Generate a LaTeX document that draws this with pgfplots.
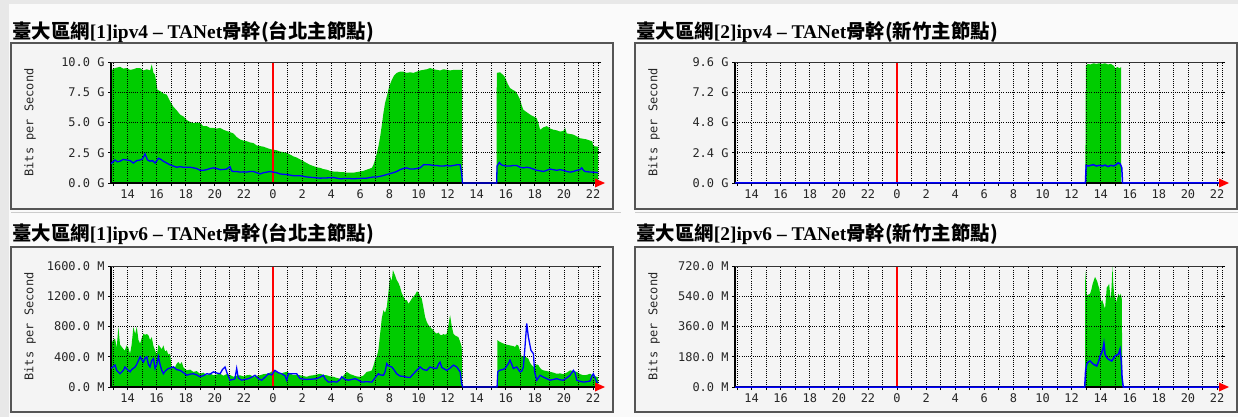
\documentclass[border=0pt]{standalone}
\usepackage{fontspec}
\setmainfont{Liberation Serif}
\newfontfamily\mono{DejaVu Sans Mono}
\newfontfamily\cjk{Noto Sans CJK TC}
\usepackage{pgfplots}
\pgfplotsset{compat=1.18}
\definecolor{mgreen}{HTML}{00CC00}
\definecolor{mblue}{HTML}{0000FF}
\definecolor{mred}{HTML}{FF0000}
\definecolor{pane}{HTML}{F4F4F4}
\definecolor{frame}{HTML}{555555}
\pgfplotsset{
 mbase/.style={scale only axis, width=487bp, height=121bp, anchor=south west,
  xmin=-11.14, xmax=22.34, ymin=0, clip=false},
 mrtg/.style={mbase,
  xtick={-11,...,22},
  xticklabels={{},14,{},16,{},18,{},20,{},22,{},0,{},2,{},4,{},6,{},8,{},10,{},12,{},14,{},16,{},18,{},20,{},22},
  grid=major, grid style={black, line width=0.7bp, dash pattern=on 0.9bp off 1.3bp},
  axis on top, axis line style={draw=none},
  tick align=outside, major tick length=3bp, tick style={black, line width=0.8bp},
  xtick pos=lower, ytick pos=both,
  ticklabel style={font=\mono\fontsize{12}{12}\selectfont, text=black!85},
  /pgf/number format/assume math mode=true},
 mover/.style={mbase, hide axis}
}
\newcommand\frameaxis{%
  \draw[black, line width=1.3bp] (rel axis cs:0,1) -- (rel axis cs:0,0) -- (rel axis cs:1,0);
  \draw[black!80, line width=0.8bp] (rel axis cs:0,1) -- (rel axis cs:1,1);
  \draw[black, line width=0.7bp, dash pattern=on 0.9bp off 1.3bp] (rel axis cs:1,0) -- (rel axis cs:1,1);}
\newcommand\redarrow{\fill[mred] (rel axis cs:1,0) ++(-3bp,-4.5bp) -- ++(10bp,4.5bp) -- ++(-10bp,4.5bp) -- cycle;}
\newcommand\ttl[3]{\node[anchor=base west, inner sep=0, font=\bfseries\fontsize{19.5}{19.5}\selectfont] at (#1,#2) {#3};}
\begin{document}
\begin{tikzpicture}[x=1bp,y=1bp]
\useasboundingbox (0,0) rectangle (1238,417);
\fill[white!98!black] (0,0) rectangle (1238,417);
\fill[black!9] (0,0) rectangle (9,417);
\fill[black!9] (0,413) rectangle (1238,417);
% panel frames
\foreach \px in {11,635}{
  \foreach \py/\qy in {208/374, 5/170}{
    \filldraw[fill=pane, draw=frame, line width=2bp] (\px,\py) rectangle (\px+602,\qy);
  }
  \draw[black!20, line width=1bp] (\px,205) -- (\px+610,205);
}
% titles
\ttl{12}{379}{{\cjk 臺大區網}[1]ipv4 – TANet{\cjk 骨幹(台北主節點)}}
\ttl{636}{379}{{\cjk 臺大區網}[2]ipv4 – TANet{\cjk 骨幹(新竹主節點)}}
\ttl{12}{177}{{\cjk 臺大區網}[1]ipv6 – TANet{\cjk 骨幹(台北主節點)}}
\ttl{636}{177}{{\cjk 臺大區網}[2]ipv6 – TANet{\cjk 骨幹(新竹主節點)}}
% y labels
\foreach \lx/\ly in {30/294.5, 654/294.5, 30/90.5, 654/90.5}{
  \node[rotate=90, font=\mono\fontsize{12}{12}\selectfont, text=black!85] at (\lx,\ly) {Bits per Second};
}
% ---------------- Panel 1 ----------------
\begin{axis}[mrtg, at={(111bp,234bp)}, ymax=10, ytick={0,2.5,5,7.5,10},
  yticklabels={0.0 G,2.5 G,5.0 G,7.5 G,10.0 G}]
\addplot[fill=mgreen, draw=none] coordinates {
(-11.14,9.3) (-10.86,9.5) (-10.52,9.6) (-10.29,9.45) (-10.06,9.5) (-9.83,9.35) (-9.60,9.4) (-9.37,9.5) (-9.14,9.5) (-8.91,9.3) (-8.68,9.4) (-8.45,9.3) (-8.34,9.8) (-8.22,9.1) (-8.11,8.95) (-7.95,7.7) (-7.77,7.6) (-7.54,7.4) (-7.31,7.3) (-7.08,6.75) (-6.85,6.3) (-6.62,6.0) (-6.39,5.65) (-6.16,5.5) (-5.93,5.2) (-5.70,5.05) (-5.48,4.95) (-5.25,5.0) (-5.02,4.95) (-4.79,4.7) (-4.56,4.7) (-4.33,4.55) (-4.10,4.55) (-3.87,4.5) (-3.64,4.55) (-3.41,4.4) (-3.19,4.3) (-2.96,4.2) (-2.73,4.1) (-2.50,3.8) (-2.27,3.6) (-2.04,3.5) (-1.81,3.45) (-1.58,3.35) (-1.35,3.3) (-1.12,3.1) (-0.89,3.05) (-0.66,3.0) (-0.43,2.9) (-0.20,2.8) (0.02,2.75) (0.25,2.7) (0.48,2.6) (0.71,2.55) (0.94,2.5) (1.17,2.35) (1.40,2.2) (1.63,2.1) (1.86,1.95) (2.09,1.8) (2.31,1.65) (2.54,1.5) (2.77,1.4) (3.00,1.3) (3.23,1.25) (3.46,1.15) (3.69,1.1) (3.92,1.0) (4.15,0.95) (4.38,0.95) (4.61,0.9) (4.84,0.9) (5.07,0.85) (5.30,0.85) (5.52,0.85) (5.75,0.9) (5.98,0.95) (6.21,1.0) (6.44,1.1) (6.67,1.2) (6.79,1.25) (6.90,1.5) (7.01,1.9) (7.12,2.4) (7.24,3.0) (7.36,3.8) (7.47,4.7) (7.59,5.8) (7.70,6.6) (7.82,7.15) (7.99,8.0) (8.16,8.5) (8.33,8.9) (8.50,9.1) (8.73,9.2) (8.96,9.2) (9.19,9.1) (9.42,9.15) (9.65,9.1) (9.88,9.2) (10.11,9.3) (10.34,9.35) (10.57,9.4) (10.80,9.5) (11.03,9.4) (11.26,9.35) (11.49,9.3) (11.72,9.4) (11.95,9.35) (12.18,9.3) (12.41,9.35) (12.64,9.35) (12.86,9.35) (13.00,9.35) (13.01,0) (15.37,0) (15.38,9.1) (15.61,9.15) (15.84,8.9) (15.96,8.7) (16.13,8.2) (16.29,7.85) (16.47,7.7) (16.64,7.6) (16.82,7.3) (16.98,6.9) (17.10,6.4) (17.21,6.05) (17.44,5.85) (17.67,5.65) (17.90,5.5) (18.13,5.35) (18.25,4.9) (18.36,4.4) (18.59,4.6) (18.82,4.7) (19.05,4.5) (19.28,4.4) (19.50,4.35) (19.73,4.25) (19.96,4.3) (20.08,4.55) (20.19,4.1) (20.42,4.05) (20.65,4.0) (20.88,3.85) (21.11,3.7) (21.34,3.65) (21.57,3.6) (21.80,3.5) (21.94,3.45) (22.02,3.05) (22.34,3.0)
} \closedcycle;
\end{axis}
\begin{axis}[mover, at={(111bp,234bp)}, ymax=10]
\addplot[draw=mred, line width=1.5bp] coordinates {(0,0) (0,10)};
\frameaxis
\addplot[mblue, line width=1.3bp] coordinates {
(-11.14,1.6) (-11.0,1.75) (-10.86,1.9) (-10.7,1.75) (-10.52,1.8) (-10.3,1.95) (-10.06,1.9) (-9.83,1.85) (-9.60,1.65) (-9.37,1.85) (-9.14,1.9) (-8.97,2.0) (-8.80,2.4) (-8.63,1.9) (-8.46,1.8) (-8.29,1.85) (-8.11,1.65) (-7.95,1.9) (-7.88,2.05) (-7.71,1.95) (-7.54,1.8) (-7.31,1.65) (-7.08,1.5) (-6.85,1.4) (-6.62,1.3) (-6.39,1.35) (-6.16,1.3) (-5.93,1.3) (-5.70,1.3) (-5.48,1.25) (-5.25,1.2) (-5.02,1.05) (-4.79,1.05) (-4.56,1.1) (-4.33,1.2) (-4.10,1.25) (-3.87,1.2) (-3.64,1.1) (-3.41,1.12) (-3.19,1.15) (-2.96,1.35) (-2.85,1.0) (-2.73,0.95) (-2.5,0.95) (-2.27,0.9) (-2.04,0.92) (-1.81,0.9) (-1.58,0.95) (-1.35,0.95) (-1.12,0.85) (-0.89,0.75) (-0.66,0.85) (-0.43,0.9) (-0.2,0.95) (0.02,0.9) (0.25,0.85) (0.48,0.75) (0.71,0.72) (0.94,0.7) (1.17,0.65) (1.40,0.6) (1.86,0.6) (2.09,0.55) (2.31,0.5) (2.77,0.45) (3.23,0.4) (3.69,0.42) (4.15,0.45) (4.38,0.4) (4.61,0.35) (5.07,0.38) (5.52,0.35) (5.98,0.38) (6.44,0.4) (6.90,0.5) (7.13,0.5) (7.36,0.55) (7.59,0.62) (7.82,0.7) (8.05,0.78) (8.27,0.85) (8.50,0.95) (8.73,1.1) (8.96,1.2) (9.19,1.25) (9.42,1.15) (9.65,1.15) (9.88,1.2) (10.11,1.25) (10.34,1.5) (10.57,1.5) (10.79,1.5) (11.02,1.45) (11.25,1.45) (11.48,1.4) (11.71,1.4) (11.94,1.45) (12.17,1.4) (12.40,1.45) (12.63,1.5) (12.86,1.5) (12.97,0.8) (13.02,0) (15.37,0) (15.40,1.4) (15.56,1.7) (15.70,1.5) (15.83,1.45) (16.06,1.4) (16.29,1.4) (16.52,1.45) (16.75,1.45) (16.98,1.3) (17.21,1.25) (17.44,1.3) (17.67,1.25) (17.90,1.15) (18.13,1.05) (18.36,1.0) (18.59,0.95) (18.82,1.05) (19.05,1.15) (19.28,1.1) (19.50,1.05) (19.73,1.1) (19.96,1.05) (20.19,0.95) (20.42,0.9) (20.65,0.95) (20.88,1.05) (21.11,1.1) (21.22,1.25) (21.34,1.05) (21.45,0.95) (21.68,0.92) (21.91,0.9) (22.14,0.88) (22.34,0.85)
};
\redarrow
\end{axis}
% ---------------- Panel 2 ----------------
\begin{axis}[mrtg, at={(735bp,234bp)}, ymax=9.6, ytick={0,2.4,4.8,7.2,9.6},
  yticklabels={0.0 G,2.4 G,4.8 G,7.2 G,9.6 G}]
\addplot[fill=mgreen, draw=none] coordinates {
(12.94,0) (12.95,1.9) (12.98,9.3) (13.1,9.45) (13.3,9.4) (13.5,9.5) (13.7,9.45) (13.9,9.5) (14.1,9.45) (14.3,9.5) (14.5,9.4) (14.7,9.45) (14.9,9.3) (15.0,9.1) (15.15,9.2) (15.3,9.1) (15.4,9.2) (15.41,0)
} \closedcycle;
\end{axis}
\begin{axis}[mover, at={(735bp,234bp)}, ymax=9.6]
\addplot[draw=mred, line width=1.5bp] coordinates {(0,0) (0,9.6)};
\frameaxis
\addplot[mblue, line width=1.5bp] coordinates {
(-11.14,0) (12.95,0) (13.0,1.4) (13.15,1.35) (13.3,1.4) (13.5,1.45) (13.7,1.35) (13.9,1.4) (14.1,1.35) (14.3,1.42) (14.5,1.3) (14.7,1.4) (14.9,1.35) (15.05,1.45) (15.2,1.6) (15.35,1.5) (15.45,1.2) (15.5,0) (22.34,0)
};
\redarrow
\end{axis}
% ---------------- Panel 3 ----------------
\begin{axis}[mrtg, at={(111bp,30bp)}, ymax=1600, ytick={0,400,800,1200,1600},
  yticklabels={0.0 M,400.0 M,800.0 M,1200.0 M,1600.0 M}]
\addplot[fill=mgreen, draw=none] coordinates {
(-11.14,560) (-11.0,620) (-10.86,640) (-10.75,520) (-10.63,795) (-10.52,560) (-10.4,530) (-10.2,480) (-10.06,550) (-9.95,520) (-9.83,440) (-9.72,560) (-9.60,795) (-9.48,700) (-9.37,795) (-9.25,620) (-9.14,575) (-9.02,650) (-8.91,705) (-8.80,690) (-8.68,700) (-8.57,685) (-8.45,620) (-8.34,660) (-8.22,540) (-8.11,485) (-7.99,420) (-7.88,560) (-7.77,530) (-7.65,500) (-7.54,550) (-7.42,470) (-7.31,485) (-7.20,430) (-7.08,440) (-6.97,245) (-6.85,280) (-6.74,260) (-6.62,310) (-6.51,330) (-6.39,300) (-6.28,330) (-6.16,260) (-6.05,240) (-5.93,220) (-5.70,230) (-5.48,200) (-5.25,210) (-5.02,175) (-4.79,190) (-4.56,155) (-4.33,180) (-4.10,155) (-3.87,165) (-3.64,175) (-3.41,150) (-3.19,170) (-2.96,160) (-2.73,135) (-2.50,150) (-2.27,155) (-2.04,140) (-1.81,155) (-1.58,160) (-1.35,135) (-1.12,150) (-0.89,155) (-0.66,170) (-0.43,175) (-0.2,190) (0.02,220) (0.25,200) (0.48,175) (0.71,190) (0.94,200) (1.17,180) (1.40,155) (1.63,160) (1.86,155) (2.09,145) (2.31,135) (2.54,150) (2.77,155) (3.00,165) (3.23,175) (3.46,160) (3.69,155) (3.92,140) (4.15,135) (4.38,120) (4.61,110) (4.84,150) (5.07,200) (5.30,170) (5.52,155) (5.75,140) (5.98,135) (6.21,150) (6.44,200) (6.67,210) (6.79,220) (6.90,280) (7.01,355) (7.12,400) (7.24,485) (7.36,700) (7.47,900) (7.59,1015) (7.70,980) (7.82,1060) (7.93,1250) (8.05,1460) (8.16,1400) (8.24,1545) (8.38,1480) (8.50,1415) (8.61,1380) (8.73,1325) (8.85,1240) (8.96,1200) (9.08,1150) (9.19,1150) (9.31,1100) (9.42,1130) (9.54,1170) (9.65,1195) (9.77,1220) (9.88,1260) (9.99,1260) (10.11,1200) (10.22,1170) (10.34,1050) (10.45,930) (10.57,860) (10.68,820) (10.79,795) (10.91,770) (11.02,750) (11.14,720) (11.25,705) (11.37,720) (11.49,690) (11.60,685) (11.72,700) (11.83,690) (11.94,705) (12.06,820) (12.17,950) (12.29,800) (12.40,705) (12.52,680) (12.63,670) (12.74,660) (12.86,600) (12.97,530) (13.01,0) (15.42,0) (15.43,620) (15.55,600) (15.66,590) (15.83,575) (16.06,560) (16.29,550) (16.52,540) (16.64,530) (16.75,560) (16.86,550) (16.98,480) (17.09,400) (17.21,410) (17.32,400) (17.44,390) (17.55,375) (17.67,320) (17.78,290) (17.90,265) (18.01,280) (18.13,300) (18.24,290) (18.36,250) (18.47,230) (18.59,220) (18.82,210) (19.05,200) (19.28,190) (19.50,175) (19.73,180) (19.96,170) (20.19,190) (20.42,220) (20.65,210) (20.88,200) (21.11,170) (21.34,155) (21.57,160) (21.80,175) (22.02,150) (22.25,135) (22.34,130)
} \closedcycle;
\end{axis}
\begin{axis}[mover, at={(111bp,30bp)}, ymax=1600]
\addplot[draw=mred, line width=1.5bp] coordinates {(0,0) (0,1600)};
\frameaxis
\addplot[mblue, line width=1.3bp] coordinates {
(-11.14,250) (-11.0,265) (-10.86,290) (-10.75,220) (-10.52,175) (-10.29,220) (-10.18,265) (-10.06,240) (-9.83,200) (-9.72,230) (-9.48,265) (-9.37,300) (-9.14,400) (-9.02,360) (-8.91,330) (-8.80,380) (-8.68,400) (-8.57,300) (-8.46,265) (-8.34,350) (-8.22,375) (-8.11,245) (-7.99,300) (-7.88,400) (-7.77,300) (-7.65,220) (-7.54,175) (-7.42,210) (-7.20,245) (-7.08,250) (-6.85,265) (-6.62,230) (-6.39,220) (-6.16,190) (-5.93,155) (-5.70,170) (-5.48,175) (-5.25,160) (-5.02,135) (-4.79,150) (-4.56,175) (-4.33,170) (-4.10,200) (-3.87,185) (-3.64,175) (-3.48,230) (-3.30,265) (-3.19,200) (-2.96,90) (-2.73,100) (-2.62,110) (-2.50,245) (-2.39,120) (-2.16,90) (-1.93,100) (-1.70,110) (-1.47,130) (-1.24,155) (-1.01,110) (-0.78,90) (-0.55,130) (-0.32,175) (-0.09,160) (0.13,220) (0.36,190) (0.59,175) (0.82,150) (0.94,90) (1.06,175) (1.40,175) (1.63,175) (1.75,140) (1.86,110) (2.31,100) (2.77,105) (3.0,110) (3.23,130) (3.46,155) (3.57,110) (3.80,65) (4.15,70) (4.38,65) (4.61,100) (4.72,135) (4.95,100) (5.18,90) (5.41,100) (5.64,110) (5.87,90) (6.10,65) (6.44,70) (6.79,65) (7.01,120) (7.24,175) (7.36,160) (7.59,155) (7.70,200) (7.82,310) (7.93,280) (8.16,265) (8.27,240) (8.50,175) (8.73,145) (8.96,140) (9.19,130) (9.42,125) (9.65,175) (9.88,220) (10.11,265) (10.34,230) (10.57,220) (10.79,265) (11.02,250) (11.25,245) (11.37,300) (11.48,330) (11.60,260) (11.71,245) (11.94,220) (12.17,250) (12.40,290) (12.63,265) (12.86,200) (12.97,45) (13.05,0) (15.40,0) (15.45,200) (15.56,220) (15.78,230) (15.95,245) (16.18,310) (16.29,355) (16.41,300) (16.52,245) (16.75,265) (16.98,200) (17.10,210) (17.21,265) (17.32,530) (17.44,840) (17.55,665) (17.73,485) (17.90,440) (17.98,200) (18.13,90) (18.36,155) (18.59,130) (18.82,110) (19.05,90) (19.28,100) (19.50,110) (19.73,95) (19.96,90) (20.19,120) (20.42,155) (20.65,220) (20.76,190) (20.88,90) (21.11,75) (21.34,65) (21.57,70) (21.80,80) (21.91,140) (22.02,175) (22.14,120) (22.25,65) (22.34,60)
};
\redarrow
\end{axis}
% ---------------- Panel 4 ----------------
\begin{axis}[mrtg, at={(735bp,30bp)}, ymax=720, ytick={0,180,360,540,720},
  yticklabels={0.0 M,180.0 M,360.0 M,540.0 M,720.0 M}]
\addplot[fill=mgreen, draw=none] coordinates {
(12.92,0) (12.93,690) (13.0,600) (13.04,545) (13.15,550) (13.27,555) (13.36,580) (13.45,615) (13.55,640) (13.61,655) (13.70,640) (13.77,625) (13.85,600) (13.91,585) (14.03,505) (14.10,520) (14.19,495) (14.30,465) (14.36,530) (14.42,595) (14.50,600) (14.58,615) (14.64,560) (14.69,515) (14.75,600) (14.81,720) (14.86,620) (14.92,555) (15.0,530) (15.06,505) (15.14,530) (15.22,555) (15.30,540) (15.38,555) (15.46,520) (15.47,0)
} \closedcycle;
\end{axis}
\begin{axis}[mover, at={(735bp,30bp)}, ymax=720]
\addplot[draw=mred, line width=1.5bp] coordinates {(0,0) (0,720)};
\frameaxis
\addplot[mblue, line width=1.5bp] coordinates {
(-11.14,0) (12.90,0) (12.96,95) (13.04,135) (13.15,150) (13.27,155) (13.38,145) (13.50,135) (13.62,130) (13.73,125) (13.85,150) (13.96,185) (14.05,200) (14.15,225) (14.22,260) (14.30,195) (14.42,175) (14.53,165) (14.65,160) (14.76,155) (14.88,170) (14.99,185) (15.10,190) (15.22,195) (15.33,225) (15.42,150) (15.47,55) (15.55,0) (22.34,0)
};
\redarrow
\end{axis}
\end{tikzpicture}
\end{document}
